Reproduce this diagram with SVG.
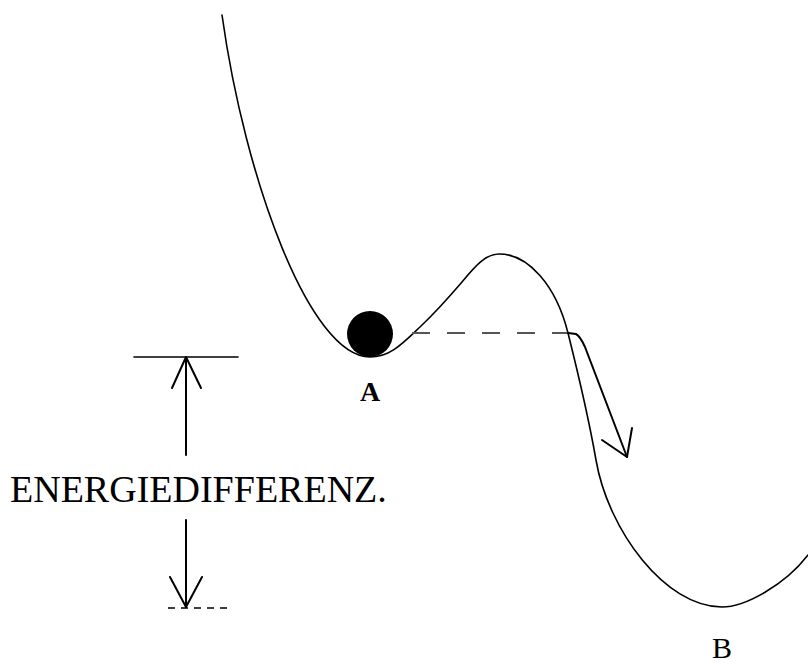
<svg xmlns="http://www.w3.org/2000/svg" width="808" height="664" viewBox="0 0 808 664">
<style>
.ln{fill:none;stroke:#000;stroke-width:1.6;stroke-linecap:round;stroke-linejoin:round}
.ar{fill:none;stroke:#000;stroke-width:2;stroke-linecap:round;stroke-linejoin:round}
.lbl{font-family:"Liberation Serif","Times New Roman",serif;fill:#000}
</style>
<rect width="808" height="664" fill="#fff"/>
<g id="curve">
<path class="ln" d="M222,15 C245,180 310,357 370,357 C390,357 402,344 420,327 C438,310 450,296 462,282 C476,265 486,254 499,254 C528,254 556,285 568,333 C574,357 588,414 596,460 C608,530 665,607 722,607 C745,607 785,585 808,555"/>
</g>
<g id="ball">
<circle cx="370" cy="334" r="23" fill="#000"/>
<text class="lbl" x="370" y="401" font-size="28" font-weight="bold" text-anchor="middle">A</text>
</g>
<g id="minB">
<text class="lbl" x="722" y="658" font-size="30" text-anchor="middle">B</text>
</g>
<g id="connectors">
<line x1="412" y1="333" x2="568" y2="333" stroke="#555" stroke-width="2" stroke-dasharray="18 17"/>
<path class="ar" d="M568,333 L576,334 Q580,336 585,347 L627,457"/>
<path class="ar" d="M602,440 L627,457 L632,428"/>
<line class="ln" x1="134" y1="357" x2="238" y2="357"/>
<line class="ar" x1="186" y1="357" x2="186" y2="455"/>
<path class="ar" d="M172,388 L186,357 L201,388"/>
<line class="ar" x1="186" y1="520" x2="186" y2="607"/>
<path class="ar" d="M170,577 L186,607 L202,577"/>
<line x1="168" y1="608" x2="230" y2="608" stroke="#000" stroke-width="1.6" stroke-dasharray="7 6"/>
</g>
<g id="energy-label">
<text class="lbl" x="10" y="502" font-size="38">ENERGIEDIFFERENZ.</text>
</g>
</svg>
